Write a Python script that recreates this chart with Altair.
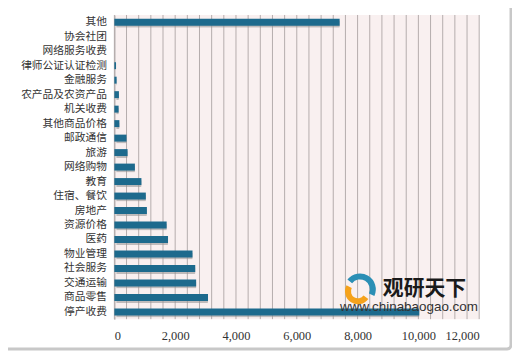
import altair as alt
import pandas as pd

categories = ["其他", "协会社团", "网络服务收费", "律师公证认证检测", "金融服务",
              "农产品及农资产品", "机关收费", "其他商品价格", "邮政通信", "旅游",
              "网络购物", "教育", "住宿、餐饮", "房地产", "资源价格", "医药",
              "物业管理", "社会服务", "交通运输", "商品零售", "停产收费"]
values = [7410, 0, 0, 55, 75, 150, 140, 165, 400, 435, 675, 890, 1035, 1070,
          1720, 1765, 2570, 2660, 2690, 3080, 10030]
x_ticks = [0, 2000, 4000, 6000, 8000, 10000, 12000]
grid_vals = list(range(0, 12001, 400))

df = pd.DataFrame({"cat": categories, "val": values})

W, H = 367, 306

x_axis = alt.Axis(values=x_ticks, format=",.0f", title=None, grid=False,
                  ticks=False, domain=False, labelPadding=10,
                  labelFont="Liberation Serif", labelFontSize=12.5,
                  labelColor="#333333", labelOverlap=False)
x_scale = alt.Scale(domain=[0, 12000], nice=False)

xs = alt.X("val:Q", scale=x_scale, axis=x_axis)
ys = alt.Y("cat:N", sort=categories,
           scale=alt.Scale(paddingInner=0.52, paddingOuter=0.26),
           axis=alt.Axis(title=None, ticks=False, domain=True, domainColor="#999999",
                         labelPadding=8, labelFont="Noto Sans CJK SC",
                         labelFontSize=10.8, labelColor="#333333"))

grid = alt.Chart(pd.DataFrame({"g": grid_vals})).mark_rule(
    color="#b4acac", strokeWidth=1).encode(
    x=alt.X("g:Q", scale=x_scale, axis=x_axis))

shadow = alt.Chart(df).mark_bar(color="#8f8f8f", opacity=0.55, xOffset=2, yOffset=2,
                                cornerRadius=1).encode(x=xs, y=ys)
bars = alt.Chart(df).mark_bar(color="#1d6a8d").encode(x=xs, y=ys)

frame = alt.Chart(pd.DataFrame({"a": [0]})).mark_rect(
    fill=None, stroke="#c8c8c8", strokeWidth=3, cornerRadius=4).encode(
    x=alt.value(-111), x2=alt.value(399), y=alt.value(-10), y2=alt.value(336))

wm1 = alt.Chart(pd.DataFrame({"t": ["观研天下"]})).mark_text(
    font="Noto Sans CJK SC", fontSize=21, fontWeight="bold", color="#1a1a1a",
    align="left", baseline="middle").encode(
    x=alt.value(270), y=alt.value(276), text="t:N")
wm2 = alt.Chart(pd.DataFrame({"t": ["www.chinabaogao.com"]})).mark_text(
    font="Liberation Sans", fontSize=13.5, color="#333333",
    align="left", baseline="middle").encode(
    x=alt.value(227), y=alt.value(294), text="t:N")
logo1 = alt.Chart(pd.DataFrame({"t": [0]})).mark_arc(
    color="#f5a21b", radius=13, radius2=7, theta=2.2, theta2=5.2).encode(
    x=alt.value(245), y=alt.value(278))
logo2 = alt.Chart(pd.DataFrame({"t": [0]})).mark_arc(
    color="#2b8fb5", radius=16, radius2=10, theta=5.38, theta2=8.28).encode(
    x=alt.value(247), y=alt.value(276))

chart = alt.layer(grid, shadow, bars, logo1, logo2, wm1, wm2, frame).properties(
    width=W, height=H, padding={"left": 107, "top": 6, "right": 33, "bottom": 31},
    autosize=alt.AutoSizeParams(type="none"),
    background="#ffffff"
).configure_view(fill="#f9f0f0", stroke=None)

chart.save("out.html", embed_options={"renderer": "svg", "actions": False})
